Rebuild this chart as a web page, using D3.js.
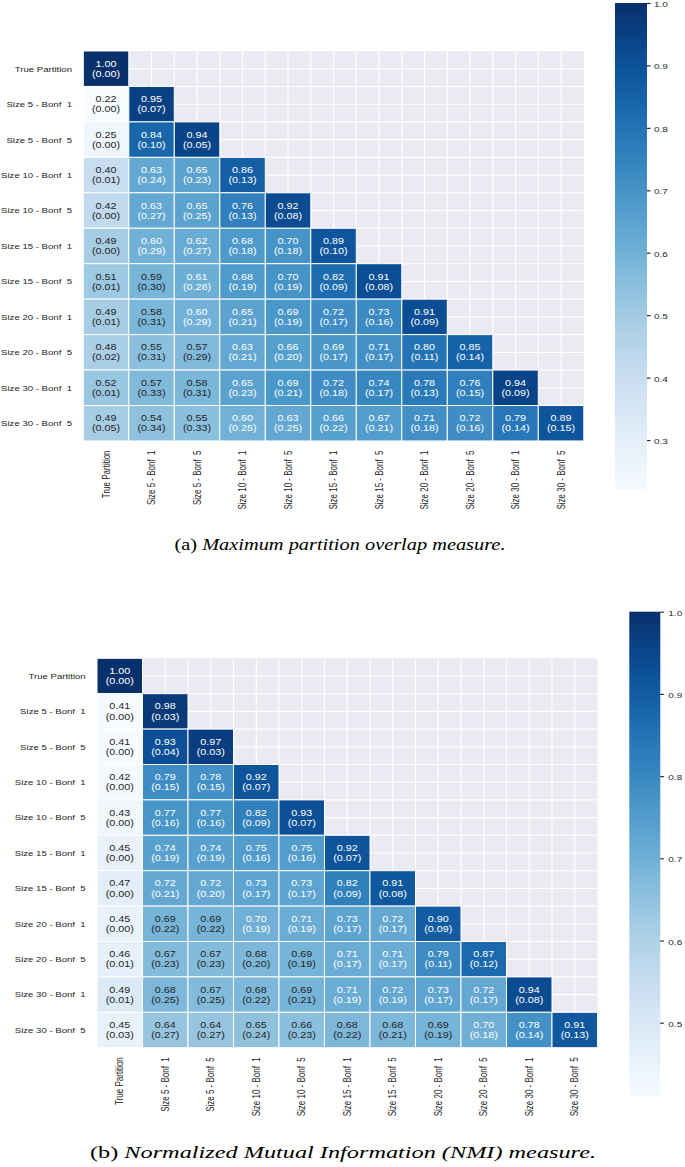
<!DOCTYPE html>
<html>
<head>
<meta charset="utf-8">
<script src="https://cdn.jsdelivr.net/npm/d3@7"></script>
<style>
  body { margin: 0; background: #fff; }
  svg { display: block; }
  text { white-space: pre; }
</style>
</head>
<body>
<svg id="fig" width="685" height="1167"></svg>
<script>
// Row / column labels (same for both heatmaps)
const labels = ["True Partition", "Size 5 - Bonf  1", "Size 5 - Bonf  5", "Size 10 - Bonf  1",
                "Size 10 - Bonf  5", "Size 15 - Bonf  1", "Size 15 - Bonf  5", "Size 20 - Bonf  1",
                "Size 20 - Bonf  5", "Size 30 - Bonf  1", "Size 30 - Bonf  5"];

// (a) Maximum partition overlap: mean and std, lower triangle by row
const overlapMean = [
  [1.00],
  [0.22, 0.95],
  [0.25, 0.84, 0.94],
  [0.40, 0.63, 0.65, 0.86],
  [0.42, 0.63, 0.65, 0.76, 0.92],
  [0.49, 0.60, 0.62, 0.68, 0.70, 0.89],
  [0.51, 0.59, 0.61, 0.68, 0.70, 0.82, 0.91],
  [0.49, 0.58, 0.60, 0.65, 0.69, 0.72, 0.73, 0.91],
  [0.48, 0.55, 0.57, 0.63, 0.66, 0.69, 0.71, 0.80, 0.85],
  [0.52, 0.57, 0.58, 0.65, 0.69, 0.72, 0.74, 0.78, 0.76, 0.94],
  [0.49, 0.54, 0.55, 0.60, 0.63, 0.66, 0.67, 0.71, 0.72, 0.79, 0.89]
];
const overlapStd = [
  [0.00],
  [0.00, 0.07],
  [0.00, 0.10, 0.05],
  [0.01, 0.24, 0.23, 0.13],
  [0.00, 0.27, 0.25, 0.13, 0.08],
  [0.00, 0.29, 0.27, 0.18, 0.18, 0.10],
  [0.01, 0.30, 0.28, 0.19, 0.19, 0.09, 0.08],
  [0.01, 0.31, 0.29, 0.21, 0.19, 0.17, 0.16, 0.09],
  [0.02, 0.31, 0.29, 0.21, 0.20, 0.17, 0.17, 0.11, 0.14],
  [0.01, 0.33, 0.31, 0.23, 0.21, 0.18, 0.17, 0.13, 0.15, 0.09],
  [0.05, 0.34, 0.33, 0.25, 0.25, 0.22, 0.21, 0.18, 0.16, 0.14, 0.15]
];

// (b) NMI: mean and std, lower triangle by row
const nmiMean = [
  [1.00],
  [0.41, 0.98],
  [0.41, 0.93, 0.97],
  [0.42, 0.79, 0.78, 0.92],
  [0.43, 0.77, 0.77, 0.82, 0.93],
  [0.45, 0.74, 0.74, 0.75, 0.75, 0.92],
  [0.47, 0.72, 0.72, 0.73, 0.73, 0.82, 0.91],
  [0.45, 0.69, 0.69, 0.70, 0.71, 0.73, 0.72, 0.90],
  [0.46, 0.67, 0.67, 0.68, 0.69, 0.71, 0.71, 0.79, 0.87],
  [0.49, 0.68, 0.67, 0.68, 0.69, 0.71, 0.72, 0.73, 0.72, 0.94],
  [0.45, 0.64, 0.64, 0.65, 0.66, 0.68, 0.68, 0.69, 0.70, 0.78, 0.91]
];
const nmiStd = [
  [0.00],
  [0.00, 0.03],
  [0.00, 0.04, 0.03],
  [0.00, 0.15, 0.15, 0.07],
  [0.00, 0.16, 0.16, 0.09, 0.07],
  [0.00, 0.19, 0.19, 0.16, 0.16, 0.07],
  [0.00, 0.21, 0.20, 0.17, 0.17, 0.09, 0.08],
  [0.00, 0.22, 0.22, 0.19, 0.19, 0.17, 0.17, 0.09],
  [0.01, 0.23, 0.23, 0.20, 0.19, 0.17, 0.17, 0.11, 0.12],
  [0.01, 0.25, 0.25, 0.22, 0.21, 0.19, 0.19, 0.17, 0.17, 0.08],
  [0.03, 0.27, 0.27, 0.24, 0.23, 0.22, 0.21, 0.19, 0.18, 0.14, 0.13]
];

// Colorbar ticks
const overlapTicks = [0.3, 0.4, 0.5, 0.6, 0.7, 0.8, 0.9, 1.0];
const nmiTicks = [0.5, 0.6, 0.7, 0.8, 0.9, 1.0];

// Captions: upright prefix + italic text
const captionA = ["(a) ", "Maximum partition overlap measure."];
const captionB = ["(b) ", "Normalized Mutual Information (NMI) measure."];

const svg = d3.select("#fig");
const SQ = 0.8;   // the original figure is squeezed vertically, texts too
const DARK = "#262626";
const SANS = "'Liberation Sans', Arial, sans-serif";

// Seaborn picks the annotation colour from the cell's luminance
function luminance(c) {
    const rgb = d3.rgb(c);
    const lin = [rgb.r, rgb.g, rgb.b].map(function (v) {
        v = v / 255;
        return v <= 0.03928 ? v / 12.92 : Math.pow((v + 0.055) / 1.055, 2.4);
    });
    return 0.2126 * lin[0] + 0.7152 * lin[1] + 0.0722 * lin[2];
}

function drawHeatmap(mean, std, ticks, o) {
    const g = svg.append("g");
    const n = labels.length;
    const vmin = d3.min(mean.flat());

    const x = d3.scaleBand().domain(d3.range(n)).range([o.left, o.left + n * o.cw]);
    const y = d3.scaleBand().domain(d3.range(n)).range([o.top, o.top + n * o.ch]);
    const color = d3.scaleSequential(d3.interpolateBlues).domain([vmin, 1]);

    // Darkgrid background with white grid lines at every half cell
    g.append("rect")
     .attr("x", o.left).attr("y", o.top)
     .attr("width", n * o.cw).attr("height", n * o.ch)
     .attr("fill", "#eaeaf2");
    const half = d3.range(1, 2 * n);
    g.selectAll(".vgrid").data(half).enter().append("line")
     .attr("x1", d => o.left + d * o.cw / 2).attr("x2", d => o.left + d * o.cw / 2)
     .attr("y1", o.top).attr("y2", o.top + n * o.ch)
     .attr("stroke", "#fff").attr("stroke-width", 1.1);
    g.selectAll(".hgrid").data(half).enter().append("line")
     .attr("y1", d => o.top + d * o.ch / 2).attr("y2", d => o.top + d * o.ch / 2)
     .attr("x1", o.left).attr("x2", o.left + n * o.cw)
     .attr("stroke", "#fff").attr("stroke-width", 1.1);

    // Flatten lower triangle into cells
    const cells = [];
    mean.forEach(function (row, i) {
        row.forEach(function (v, j) {
            cells.push({ i: i, j: j, v: v, s: std[i][j] });
        });
    });

    g.selectAll(".cell").data(cells).enter().append("rect")
     .attr("x", d => x(d.j)).attr("y", d => y(d.i))
     .attr("width", x.bandwidth()).attr("height", y.bandwidth())
     .attr("fill", d => color(d.v))
     .attr("stroke", "#fff").attr("stroke-width", 1);

    const ann = g.selectAll(".ann").data(cells).enter().append("text")
     .attr("transform", d => "translate(" + (x(d.j) + x.bandwidth() / 2) + "," + (y(d.i) + y.bandwidth() / 2) + ") scale(1," + SQ + ")")
     .attr("text-anchor", "middle")
     .style("font-family", SANS).style("font-size", "10.8px")
     .attr("fill", d => luminance(color(d.v)) > 0.408 ? DARK : "#fff");
    ann.append("tspan").attr("x", 0).attr("y", -2.4).text(d => d.v.toFixed(2));
    ann.append("tspan").attr("x", 0).attr("y", 10.2).text(d => "(" + d.s.toFixed(2) + ")");

    // Row labels
    g.selectAll(".rowlab").data(labels).enter().append("text")
     .attr("transform", (d, i) => "translate(" + (o.left - 11.3) + "," + (y(i) + y.bandwidth() / 2) + ") scale(1," + SQ + ")")
     .attr("y", 3.6)
     .attr("text-anchor", "end")
     .style("font-family", SANS).style("font-size", "9.6px")
     .attr("fill", DARK)
     .text(d => d);

    // Column labels, rotated
    const bottom = o.top + n * o.ch;
    g.selectAll(".collab").data(labels).enter().append("text")
     .attr("transform", (d, i) => "translate(" + (x(i) + x.bandwidth() / 2) + "," + (bottom + 9.5) + ") scale(1," + SQ + ") rotate(-90)")
     .attr("y", 3.6)
     .attr("text-anchor", "end")
     .style("font-family", SANS).style("font-size", "10px")
     .attr("fill", DARK)
     .text(d => d);

    // Colorbar
    const cb = o.bar;
    const cbScale = d3.scaleLinear().domain([vmin, 1]).range([cb.bottom, cb.top]);
    const gradId = "grad" + o.id;
    const grad = svg.append("defs").append("linearGradient")
                    .attr("id", gradId)
                    .attr("x1", 0).attr("y1", 1).attr("x2", 0).attr("y2", 0);
    grad.selectAll("stop").data(d3.range(0, 1.0001, 0.02)).enter().append("stop")
        .attr("offset", d => d)
        .attr("stop-color", d => d3.interpolateBlues(d));
    g.append("rect")
     .attr("x", cb.x).attr("y", cb.top)
     .attr("width", cb.w).attr("height", cb.bottom - cb.top)
     .attr("fill", "url(#" + gradId + ")");

    const axis = g.append("g")
                  .attr("transform", "translate(" + (cb.x + cb.w) + ",0)")
                  .call(d3.axisRight(cbScale).tickValues(ticks).tickSize(3.5).tickFormat(d3.format(".1f")));
    axis.select(".domain").remove();
    axis.selectAll("line").attr("stroke", DARK).attr("stroke-width", 1.2);
    axis.selectAll("text")
        .attr("fill", DARK)
        .attr("x", null).attr("dy", null)
        .attr("transform", "translate(" + (cb.labelDx) + ",3.5) scale(1," + SQ + ")")
        .style("font-family", SANS).style("font-size", "10px");
}

function drawCaption(parts, cx, baseline, width) {
    const t = svg.append("text")
                 .attr("x", cx).attr("y", baseline)
                 .attr("text-anchor", "middle")
                 .attr("textLength", width)
                 .attr("lengthAdjust", "spacingAndGlyphs")
                 .style("font-family", "'Liberation Serif', 'DejaVu Serif', serif")
                 .style("font-size", "17px")
                 .attr("fill", "#000");
    t.append("tspan").text(parts[0]);
    t.append("tspan").style("font-style", "italic").text(parts[1]);
}

drawHeatmap(overlapMean, overlapStd, overlapTicks, {
    id: "a", left: 83.3, top: 51, cw: 45.5, ch: 35.45,
    bar: { x: 615, w: 32, top: 3, bottom: 490, labelDx: 7 }
});
drawHeatmap(nmiMean, nmiStd, nmiTicks, {
    id: "b", left: 97, top: 658.3, cw: 45.5, ch: 35.4,
    bar: { x: 629.3, w: 31, top: 611.7, bottom: 1096.7, labelDx: 8 }
});

drawCaption(captionA, 340, 550, 331);
drawCaption(captionB, 343, 1158, 506);
</script>
</body>
</html>
